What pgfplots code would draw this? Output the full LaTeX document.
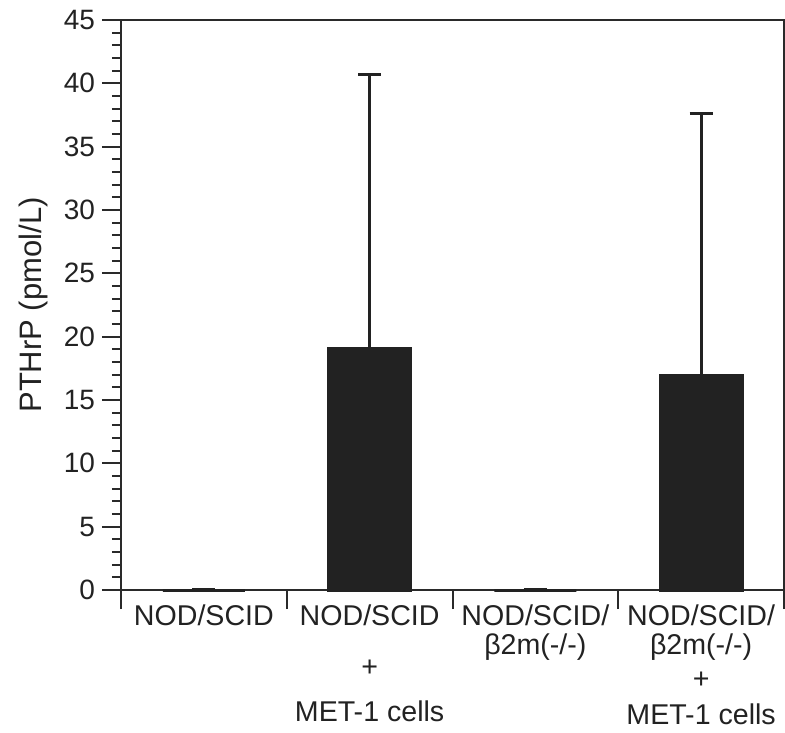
\documentclass[border=0pt]{standalone}
\usepackage{pgfplots}
\pgfplotsset{compat=1.18}
\usepackage{fontspec}
\setmainfont{Liberation Sans}
\definecolor{barc}{HTML}{222222}
\definecolor{linec}{HTML}{2A2A2A}
\begin{document}
\begin{tikzpicture}
\begin{axis}[
  name=ax,
  scale only axis,
  width=331.5pt, height=285pt,
  xmin=-0.5, xmax=3.5, ymin=0, ymax=45,
  axis line style={draw=linec, line width=1pt},
  tick style={draw=linec, line width=1pt},
  tick align=outside,
  tick pos=left,
  major tick length=9.5pt,
  minor tick length=4.5pt,
  ytick={0,5,...,45},
  minor y tick num=4,
  xtick={-0.5,0.5,1.5,2.5,3.5},
  xticklabels={},
  extra x ticks={0,1,2,3},
  extra x tick labels={NOD/SCID,
    {NOD/SCID\\[11pt]+\\[8pt]MET-1 cells},
    {NOD/SCID/\\β2m(-/-)},
    {NOD/SCID/\\β2m(-/-)\\[2.5pt]+\\[3.5pt]MET-1 cells}},
  extra x tick style={major tick length=0pt, tick style={draw=none}},
  xticklabel style={align=center, anchor=north, yshift=-4pt, text=barc,
    font=\fontsize{14.3}{14.5}\selectfont},
  yticklabel style={text=barc, font=\fontsize{14}{16}\selectfont},
  /pgf/number format/assume math mode=true,
  ylabel={PTHrP (pmol/L)},
  ylabel style={at={(axis description cs:-0.1192,0.5)}, anchor=base, rotate=0,
    text=barc, font=\fontsize{15.5}{18}\selectfont},
  clip=false,
]
\addplot[ybar, bar width=41pt, fill=barc, draw=barc, line width=1.5pt,
  error bars/.cd, y dir=plus, y explicit,
  error bar style={draw=barc, line width=1.6pt},
  error mark options={rotate=90, mark size=5.75pt, line width=1.6pt, draw=barc}]
  coordinates {
    (0,0) +- (0,0)
    (1,19.1) +- (0,21.6)
    (2,0) +- (0,0)
    (3,16.9) +- (0,20.7)
  };
\end{axis}
\pgfresetboundingbox
\path[use as bounding box] ([shift={(-60.5pt,-71pt)}]ax.south west) rectangle ([shift={(0.5pt,10pt)}]ax.north east);
\end{tikzpicture}
\end{document}
